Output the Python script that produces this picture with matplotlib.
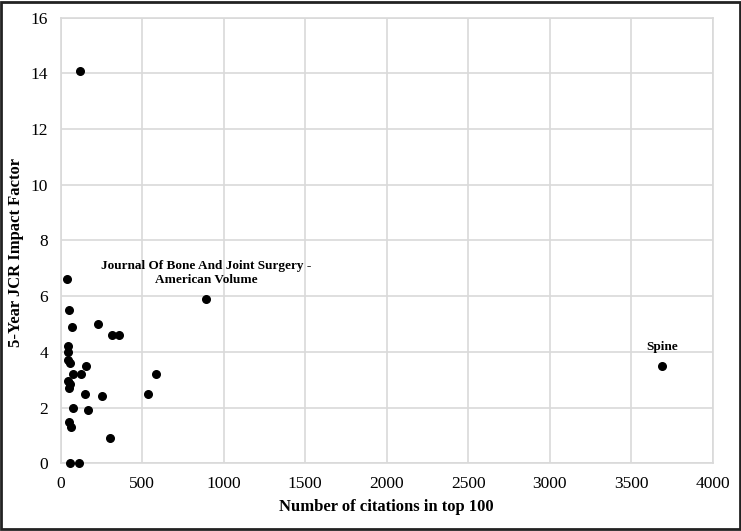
import matplotlib
matplotlib.use("Agg")
import matplotlib.pyplot as plt
from matplotlib.patches import Rectangle

citations = [116, 37, 51, 67, 226, 312, 355, 43, 47, 43, 57, 153, 73, 124,
             43, 57, 53, 149, 255, 536, 583, 73, 165, 53, 63, 304, 59, 112,
             893, 3690]
impact = [14.1, 6.6, 5.5, 4.9, 5.0, 4.6, 4.6, 4.2, 4.0, 3.7, 3.6, 3.5, 3.2, 3.2,
          2.95, 2.85, 2.7, 2.5, 2.4, 2.5, 3.2, 2.0, 1.9, 1.5, 1.3, 0.9, 0.0, 0.02,
          5.9, 3.5]
labels = {"Journal Of Bone And Joint Surgery -\nAmerican Volume": (893, 5.9),
          "Spine": (3690, 3.5)}
x_ticks = [0, 500, 1000, 1500, 2000, 2500, 3000, 3500, 4000]
y_ticks = [0, 2, 4, 6, 8, 10, 12, 14, 16]

plt.rcParams['font.family'] = ['Liberation Serif', 'DejaVu Serif']

fig = plt.figure(figsize=(7.41, 5.31), dpi=100)
ax = fig.add_axes([0.0819, 0.1275, 0.9617 - 0.0819, 0.9667 - 0.1275])

ax.scatter(citations, impact, s=30, color='black', zorder=3, clip_on=False)

for text, (x, y) in labels.items():
    ax.annotate(text, (x, y), xytext=(0, 9), textcoords='offset points',
                ha='center', va='bottom', fontsize=9.5, fontweight='bold',
                linespacing=1.3)

ax.set_xlim(0, 4000)
ax.set_ylim(0, 16)
ax.set_xticks(x_ticks)
ax.set_yticks(y_ticks)
ax.tick_params(length=0, labelsize=12.5)
ax.tick_params(axis='y', pad=9)
ax.tick_params(axis='x', pad=9)
ax.grid(True, color='#d9d9d9', linewidth=1.2)
ax.set_axisbelow(True)
for s in ax.spines.values():
    s.set_color('#d9d9d9')
    s.set_linewidth(1.2)

ax.set_xlabel('Number of citations in top 100', fontsize=12, fontweight='bold')
ax.set_ylabel('5-Year JCR Impact Factor', fontsize=12, fontweight='bold')
ax.xaxis.set_label_coords(0.5, -0.098)
ax.yaxis.set_label_coords(-0.068, 0.474)
ax.xaxis.label.set_va('center')
ax.yaxis.label.set_va('center')

fig.patches.append(Rectangle((0.002, 0.003), 0.996, 0.994, transform=fig.transFigure,
                             fill=False, edgecolor='#222222', linewidth=2))

fig.savefig('out.png', dpi=100)
